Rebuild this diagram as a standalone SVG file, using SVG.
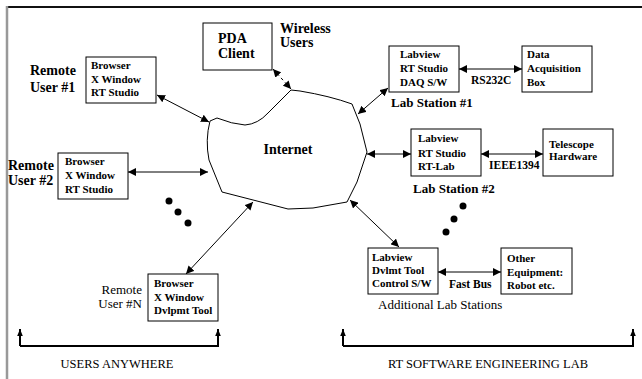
<svg xmlns="http://www.w3.org/2000/svg" width="642" height="379" viewBox="0 0 642 379">
<defs>
<style>
.box{fill:#fff;stroke:#000;stroke-width:1}
.bt{font-family:"Liberation Serif",serif;font-weight:bold;font-size:11px;fill:#000}
.lb{font-family:"Liberation Serif",serif;font-weight:bold;font-size:14px;fill:#000}
.ls{font-family:"Liberation Serif",serif;font-weight:bold;font-size:13px;fill:#000}
.bus{font-family:"Liberation Serif",serif;font-weight:bold;font-size:11.5px;fill:#000}
.rg{font-family:"Liberation Serif",serif;font-size:13px;fill:#000}
.ft{font-family:"Liberation Serif",serif;font-size:12.5px;fill:#000}
.cn{fill:none;stroke:#000;stroke-width:1;marker-start:url(#ah);marker-end:url(#ah)}
.br{fill:none;stroke:#000;stroke-width:2;marker-start:url(#au);marker-end:url(#au)}
</style>
<marker id="ah" viewBox="0 0 10 10" refX="10" refY="5" markerWidth="8" markerHeight="8" markerUnits="userSpaceOnUse" orient="auto-start-reverse">
<path d="M0,0 L10,5 L0,10 Z" fill="#000"/>
</marker>
<marker id="au" viewBox="0 0 10 10" refX="10" refY="5" markerWidth="7" markerHeight="7" markerUnits="userSpaceOnUse" orient="auto-start-reverse">
<path d="M0,1 L10,5 L0,9 Z" fill="#000"/>
</marker>
</defs>
<rect width="642" height="379" fill="#fff"/>
<g id="frame">
<line x1="6" y1="7" x2="642" y2="7" stroke="#111" stroke-width="2"/>
<line x1="7" y1="6" x2="7" y2="379" stroke="#999" stroke-width="2.5"/>
</g>

<g id="internet">
<path d="M210,121 L217,118 Q232,124 245,125 Q258,124 268,113 L291,90 L300,91 Q330,96 352,104 L360,124 L367,152 L357,182 L347,202 L313,208 L288,209 L257,201 L222,192 L209,160 Q205,140 210,121 Z" fill="#fff" stroke="#000" stroke-width="1"/>
<text class="lb" x="288" y="154" text-anchor="middle">Internet</text>
</g>

<g id="pda">
<rect class="box" x="203" y="23" width="69" height="47"/>
<text class="lb" x="218" y="43">PDA</text>
<text class="lb" x="218" y="58">Client</text>
<text class="lb" x="280" y="33">Wireless</text>
<text class="lb" x="280" y="47">Users</text>
</g>

<g id="user1">
<text class="lb" x="30" y="75">Remote</text>
<text class="lb" x="30" y="92">User #1</text>
<rect class="box" x="86" y="57" width="70" height="46"/>
<text class="bt" x="91" y="69">Browser</text>
<text class="bt" x="91" y="83">X Window</text>
<text class="bt" x="91" y="96">RT Studio</text>
</g>

<g id="user2">
<text class="lb" x="8" y="170">Remote</text>
<text class="lb" x="8" y="185">User #2</text>
<rect class="box" x="58" y="153" width="70" height="46"/>
<text class="bt" x="65" y="165">Browser</text>
<text class="bt" x="65" y="179">X Window</text>
<text class="bt" x="65" y="193">RT Studio</text>
</g>

<g id="userN">
<text class="rg" x="142" y="294" text-anchor="end">Remote</text>
<text class="rg" x="142" y="308" text-anchor="end">User #N</text>
<rect class="box" x="148" y="274" width="70" height="47"/>
<text class="bt" x="154" y="287">Browser</text>
<text class="bt" x="154" y="301">X Window</text>
<text class="bt" x="154" y="314">Dvlpmt Tool</text>
</g>

<g id="dots">
<circle cx="169" cy="201" r="3.5"/>
<circle cx="178" cy="212" r="3.5"/>
<circle cx="188" cy="223" r="3.5"/>
<circle cx="463" cy="206" r="3.5"/>
<circle cx="454" cy="219" r="3.5"/>
<circle cx="446" cy="232" r="3.5"/>
</g>

<g id="lab1">
<rect class="box" x="389" y="46" width="70" height="46"/>
<text class="bt" x="400" y="58">Labview</text>
<text class="bt" x="400" y="72">RT Studio</text>
<text class="bt" x="400" y="86">DAQ S/W</text>
<text class="ls" x="391" y="107">Lab Station #1</text>
</g>

<g id="daq">
<rect class="box" x="522" y="46" width="70" height="46"/>
<text class="bt" x="527" y="58">Data</text>
<text class="bt" x="527" y="72">Acquisition</text>
<text class="bt" x="527" y="86">Box</text>
</g>

<g id="lab2">
<rect class="box" x="411" y="129" width="70" height="47"/>
<text class="bt" x="418" y="142">Labview</text>
<text class="bt" x="418" y="157">RT Studio</text>
<text class="bt" x="418" y="170">RT-Lab</text>
<text class="ls" x="413" y="193">Lab Station #2</text>
</g>

<g id="telescope">
<rect class="box" x="543" y="129" width="70" height="47"/>
<text class="bt" x="549" y="148">Telescope</text>
<text class="bt" x="549" y="160">Hardware</text>
</g>

<g id="lab3">
<rect class="box" x="368" y="248" width="70" height="46"/>
<text class="bt" x="372" y="261">Labview</text>
<text class="bt" x="372" y="274">Dvlmt Tool</text>
<text class="bt" x="372" y="287">Control S/W</text>
<text class="rg" x="378" y="309">Additional Lab Stations</text>
</g>

<g id="other">
<rect class="box" x="501" y="248" width="71" height="46"/>
<text class="bt" x="507" y="262">Other</text>
<text class="bt" x="507" y="276">Equipment:</text>
<text class="bt" x="507" y="289">Robot etc.</text>
</g>

<g id="connectors">
<line class="cn" x1="157" y1="95" x2="209" y2="122"/>
<line class="cn" x1="128" y1="172" x2="208" y2="172"/>
<line class="cn" x1="186" y1="274" x2="253" y2="202"/>
<line class="cn" x1="273" y1="69" x2="291" y2="89" stroke-dasharray="3,3"/>
<line class="cn" x1="388" y1="88" x2="358" y2="114"/>
<line class="cn" x1="367" y1="154" x2="411" y2="154"/>
<line class="cn" x1="350" y1="200" x2="399" y2="247"/>
<line class="cn" x1="459" y1="69" x2="522" y2="69"/>
<line class="cn" x1="481" y1="154" x2="543" y2="154"/>
<line class="cn" x1="438" y1="272" x2="501" y2="272"/>
<path class="br" d="M20,346 L218,346 L218,329" style="marker-start:none"/>
<path class="br" d="M20,346 L20,329" style="marker-start:none"/>
<path class="br" d="M343,346 L633,346 L633,329" style="marker-start:none"/>
<path class="br" d="M343,346 L343,329" style="marker-start:none"/>
</g>
<g id="bus-labels">
<text class="bus" x="471" y="84">RS232C</text>
<text class="bus" x="489" y="169">IEEE1394</text>
<text class="bus" x="449" y="288">Fast Bus</text>
</g>
<g id="footer">
<text class="ft" x="117" y="368" text-anchor="middle">USERS ANYWHERE</text>
<text class="ft" x="488" y="368" text-anchor="middle">RT SOFTWARE ENGINEERING LAB</text>
</g>
</svg>
